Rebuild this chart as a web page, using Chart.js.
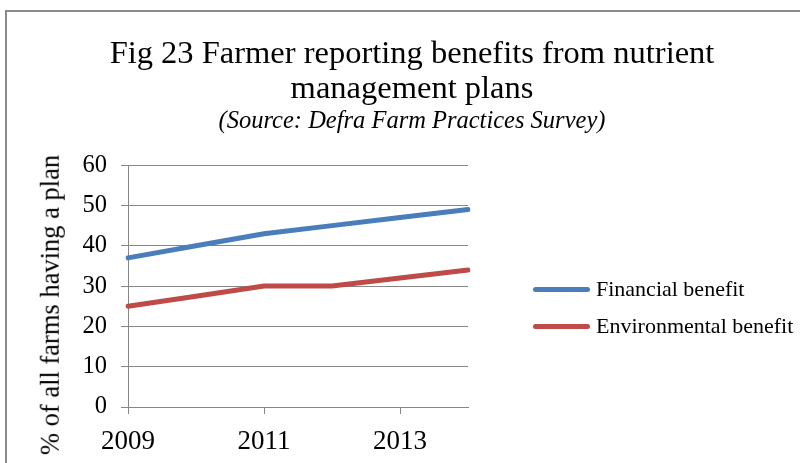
<!DOCTYPE html>
<html>
<head>
<meta charset="utf-8">
<script src="https://cdn.jsdelivr.net/npm/chart.js@4/dist/chart.umd.min.js"></script>
<style>
  html, body { margin: 0; padding: 0; background: #fff; }
  .wrap { position: relative; width: 800px; height: 463px; overflow: hidden;
          font-family: 'Liberation Serif', 'Times New Roman', serif; color: #000; }
  .ytitle { position: absolute; left: 50px; top: 305px; font-size: 26.5px; white-space: nowrap;
            transform: translate(-50%, -50%) rotate(-90deg); line-height: 1; }
  .legend { position: absolute; left: 533px; top: 274px; }
  .legend-item { display: flex; align-items: center; height: 30px; margin-bottom: 7px; font-size: 22px; white-space: nowrap; }
  .legend-item .swatch { display: inline-block; width: 57px; height: 5px; border-radius: 3px; margin-right: 6px; }
</style>
</head>
<body>
<div class="wrap">
  <canvas id="c" width="800" height="463"></canvas>
  <div class="ytitle">% of all farms having a plan</div>
  <div class="legend" id="legend"></div>
</div>
<script>
Chart.defaults.font.family = "'Liberation Serif', 'Times New Roman', serif";
Chart.defaults.color = '#000';

const years = ['2009', '2010', '2011', '2012', '2013', '2014'];
const financial = [37, 40, 43, 45, 47, 49];
const environmental = [25, 27.5, 30, 30, 32, 34];
const yTicks = [0, 10, 20, 30, 40, 50, 60];

const gridGrey = '#868686';
const padLeft = 24;

// frame of the original chart box
const frame = {
  id: 'frame',
  afterDraw(chart) {
    const ctx = chart.ctx;
    ctx.save();
    ctx.strokeStyle = '#8a8a8a';
    ctx.lineWidth = 2;
    ctx.beginPath();
    ctx.moveTo(6, 463);
    ctx.lineTo(6, 11);
    ctx.lineTo(800, 11);
    ctx.stroke();
    ctx.restore();
  }
};

const chart = new Chart(document.getElementById('c'), {
  type: 'line',
  data: {
    labels: years,
    datasets: [
      {
        label: 'Financial benefit',
        data: financial,
        borderColor: '#4A7EBB',
        backgroundColor: '#4A7EBB',
        borderWidth: 5,
        borderCapStyle: 'round',
        pointRadius: 0,
        tension: 0
      },
      {
        label: 'Environmental benefit',
        data: environmental,
        borderColor: '#BE4B48',
        backgroundColor: '#BE4B48',
        borderWidth: 5,
        borderCapStyle: 'round',
        pointRadius: 0,
        tension: 0
      }
    ]
  },
  options: {
    responsive: false,
    animation: false,
    events: [],
    layout: { padding: { left: padLeft, right: 0, top: 0, bottom: 0 } },
    scales: {
      x: {
        offset: false,
        grid: { drawOnChartArea: false, drawTicks: true, tickLength: 7, color: gridGrey },
        border: { color: gridGrey },
        ticks: {
          autoSkip: false,
          maxRotation: 0,
          padding: 12,
          font: { size: 27 },
          callback: function (v, i) { return i % 2 === 0 ? this.getLabelForValue(v) : null; }
        },
        afterFit: s => { s.height = 56; }
      },
      y: {
        min: 0,
        max: 60,
        afterBuildTicks: s => { s.ticks = yTicks.map(v => ({ value: v })); },
        grid: { color: gridGrey, tickLength: 7 },
        border: { color: gridGrey },
        ticks: { padding: 14, font: { size: 24.5 } },
        afterFit: s => { s.width = 128 - padLeft; }
      },
      // empty right-hand space where the legend sits
      legendSpace: {
        position: 'right',
        grid: { display: false },
        border: { display: false },
        ticks: { display: false },
        afterFit: s => { s.width = 332; }
      }
    },
    plugins: {
      title: {
        display: true,
        text: ['Fig 23 Farmer reporting benefits from nutrient', 'management plans'],
        font: { size: 32.5, weight: 'normal', lineHeight: 1.08 },
        color: '#000',
        padding: { top: 37, bottom: 0 }
      },
      subtitle: {
        display: true,
        text: '(Source: Defra Farm Practices Survey)',
        font: { size: 24.5, style: 'italic', lineHeight: 1.1 },
        color: '#000',
        padding: { top: 1, bottom: 30 }
      },
      legend: { display: false },
      tooltip: { enabled: false }
    }
  },
  plugins: [frame]
});

// ---- HTML legend ----
document.getElementById('legend').innerHTML = chart.data.datasets.map(d => `
  <div class="legend-item"><span class="swatch" style="background:${d.borderColor}"></span>${d.label}</div>`).join('');
</script>
</body>
</html>
